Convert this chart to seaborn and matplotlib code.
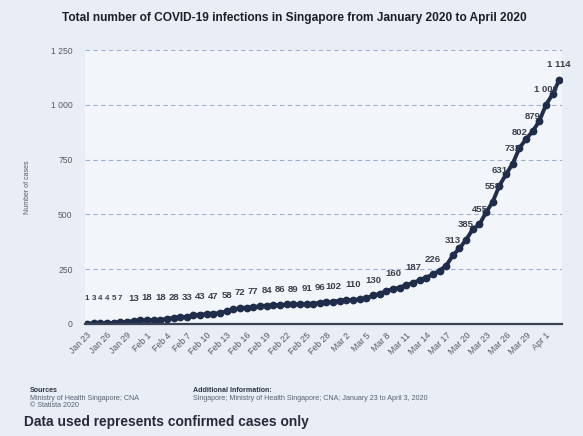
import pandas as pd
import matplotlib
matplotlib.use("Agg")
import matplotlib.pyplot as plt
import seaborn as sns

sns.set_theme(style="white")
plt.rcParams['font.family'] = ['Liberation Sans', 'DejaVu Sans']

# ===============================
# Data (cumulative confirmed cases, Jan 23 - Apr 3 2020)
# ===============================
start_day = '2020-01-23'
end_day = '2020-04-03'
cases = [1, 3, 4, 4, 5, 7, 10, 13, 16, 18,
         18, 18, 24, 28, 30, 33, 40, 43, 45, 47,
         50, 58, 67, 72, 75, 77, 81, 84, 85, 86,
         89, 89, 90, 91, 93, 96, 98, 102, 106, 108,
         110, 112, 117, 130, 138, 150, 160, 166, 178, 187,
         200, 212, 226, 243, 266, 313, 345, 385, 432, 455,
         509, 558, 631, 683, 732, 802, 844, 879, 926, 1000,
         1049, 1114]
# points that carry a value label
labelled = [0, 1, 2, 3, 4, 5, 7, 9, 11, 13, 15, 17, 19, 21, 23, 25, 27, 29,
            31, 33, 35, 37, 40, 43, 46, 49, 52, 55, 57, 59, 61, 62, 64, 65,
            67, 69, 71]
y_ticks = [0, 250, 500, 750, 1000, 1250]

days = pd.date_range(start_day, end_day, freq='D')
df = pd.DataFrame({'day': days, 'cases': cases})


def fmt_num(v):
    return f"{v:,}".replace(",", " ")


bg = '#e8edf6'
line_col = '#1f2c4a'

fig = plt.figure(figsize=(5.83, 4.36), dpi=100, facecolor=bg)
ax = fig.add_axes([0.146, 0.257, 0.818, 0.628])
ax.set_facecolor('#f2f5fa')

sns.lineplot(data=df, x='day', y='cases', ax=ax, color=line_col, linewidth=2.8,
             marker='o', markersize=5.6, markeredgewidth=0, markerfacecolor=line_col)

for i in labelled:
    v = cases[i]
    # small values sit a bit higher above the line, like the original
    off = 11 + 7 * max(0.0, 1 - v / 60)
    ax.annotate(fmt_num(v), (df['day'][i], v), xytext=(0, off),
                textcoords='offset points', ha='center', va='center',
                fontsize=5.8 if v < 10 else 6.8, fontweight='bold', color='#3a3f4d',
                annotation_clip=False)

# axes styling
ax.set_ylim(0, 1250)
ax.set_xlim(days[0] - pd.Timedelta(hours=7), days[-1] + pd.Timedelta(hours=10))
ax.set_yticks(y_ticks)
ax.set_yticklabels([fmt_num(v) for v in y_ticks], fontsize=6.2, color='#555a66')
ax.yaxis.grid(True, linestyle=(0, (4, 3)), color='#9fb0d6', linewidth=0.8)
ax.xaxis.grid(False)
ax.tick_params(axis='y', length=0, pad=9)

tick_days = days[::3]
ax.set_xticks(tick_days)
ax.set_xticklabels([d.strftime('%b ') + str(d.day) for d in tick_days],
                   rotation=45, ha='right', rotation_mode='anchor',
                   fontsize=6.3, color='#555a66')
ax.tick_params(axis='x', length=0, pad=5)

for s in ['top', 'right', 'left']:
    ax.spines[s].set_visible(False)
ax.spines['bottom'].set_color('#3b4256')
ax.spines['bottom'].set_linewidth(1.6)

ax.set_xlabel('')
ax.set_ylabel('Number of cases', fontsize=5, color='#555a66', labelpad=14)

# titles and footer
fig.text(0.505, 0.958, 'Total number of COVID-19 infections in Singapore from January 2020 to April 2020',
         ha='center', va='center', fontsize=8.6, fontweight='bold', color='#1e1e28')

fig.text(0.051, 0.100, 'Sources', fontsize=5.1, fontweight='bold', color='#2e3342')
fig.text(0.051, 0.083, 'Ministry of Health Singapore; CNA', fontsize=5.1, color='#5a6070')
fig.text(0.051, 0.067, '\u00a9 Statista 2020', fontsize=5.1, color='#5a6070')
fig.text(0.331, 0.100, 'Additional Information:', fontsize=5.1, fontweight='bold', color='#2e3342')
fig.text(0.331, 0.083, 'Singapore; Ministry of Health Singapore; CNA; January 23 to April 3, 2020',
         fontsize=5.1, color='#5a6070')

fig.text(0.042, 0.032, 'Data used represents confirmed cases only', fontsize=9.9,
         fontweight='bold', color='#262a3a', va='center')

fig.savefig('out.png', dpi=100, facecolor=bg)
